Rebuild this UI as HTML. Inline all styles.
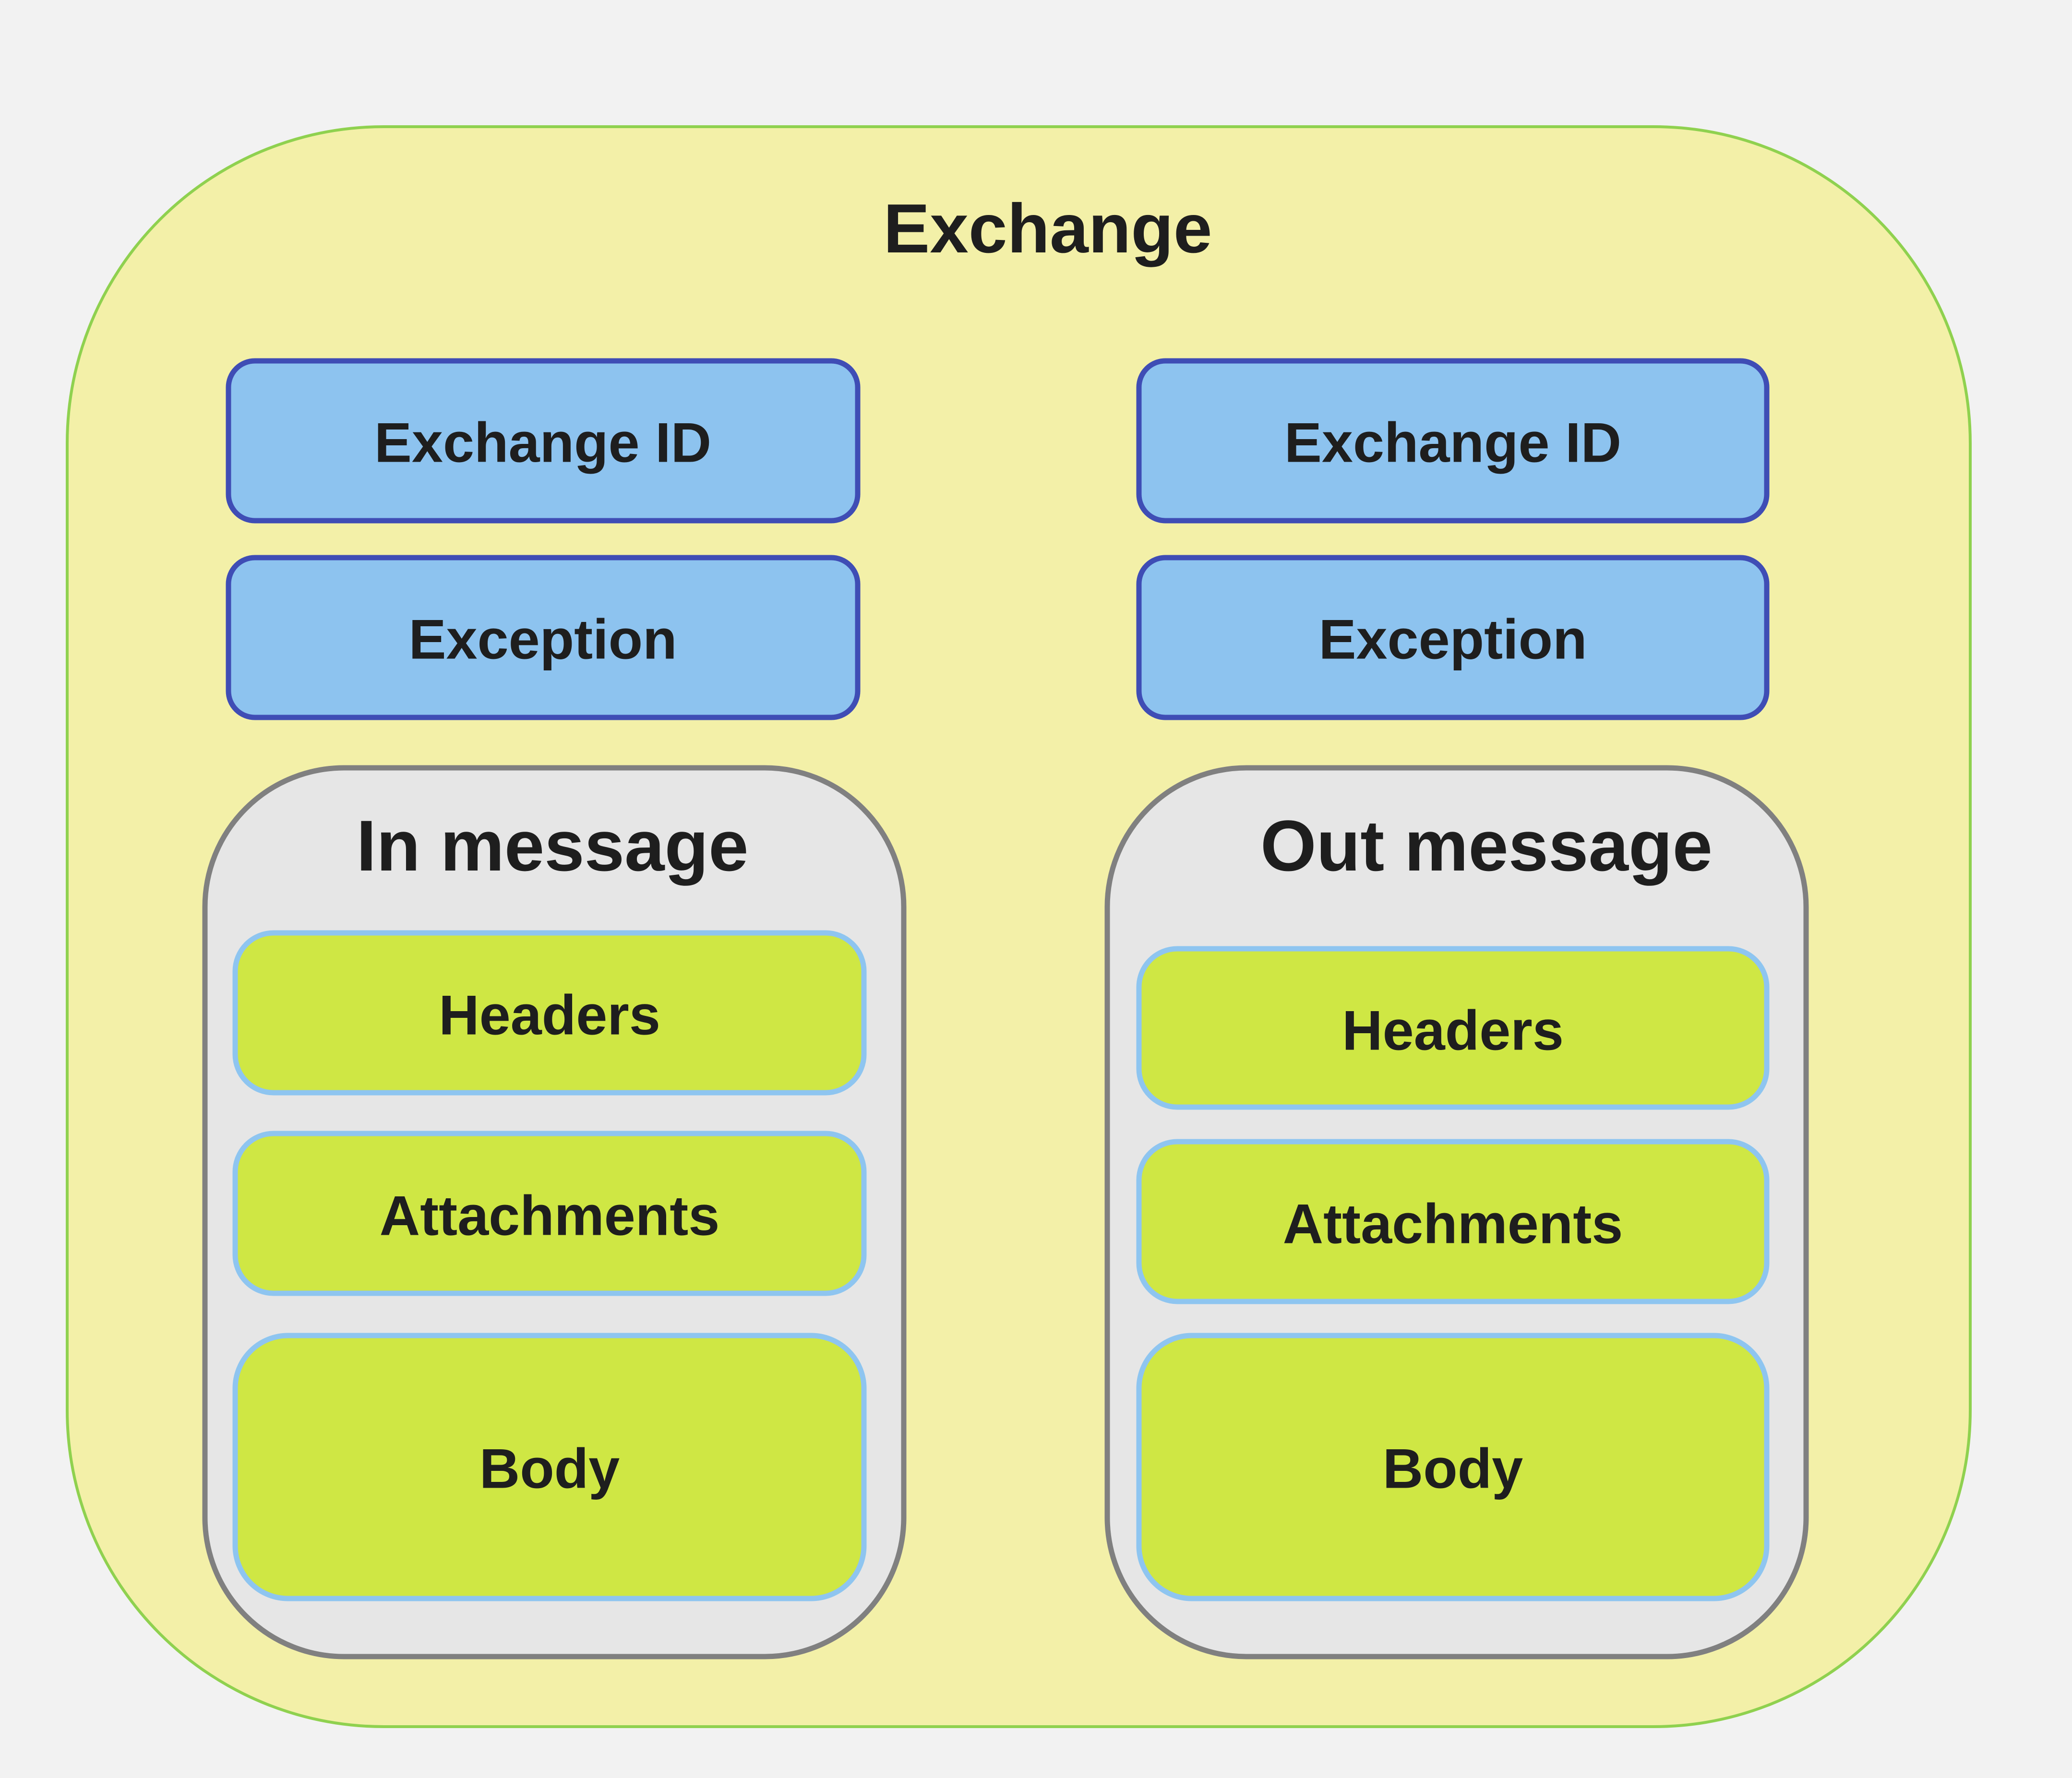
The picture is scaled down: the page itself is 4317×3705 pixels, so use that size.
<!DOCTYPE html>
<html><head><meta charset="utf-8"><style>
html,body{margin:0;padding:0;background:#f2f2f2;}
svg{display:block;}
text{font-family:"Liberation Sans","DejaVu Sans",sans-serif;font-weight:bold;fill:#1e1e1e;text-anchor:middle;dominant-baseline:central;}
</style></head><body>
<svg width="4317" height="3705" viewBox="0 0 4317 3705" xmlns="http://www.w3.org/2000/svg">
<rect width="4317" height="3705" fill="#f2f2f2"/>
<rect x="140" y="264" width="3965" height="3334" rx="660" ry="660" fill="#f3f0a8" stroke="#8fd14f" stroke-width="6"/>
<text x="2183" y="476" font-size="145">Exchange</text>

<g fill="#8dc3ef" stroke="#3f4db5" stroke-width="11">
<rect x="476" y="752" width="1311" height="333" rx="55"/>
<rect x="476" y="1162" width="1311" height="333" rx="55"/>
<rect x="2373" y="752" width="1308" height="333" rx="55"/>
<rect x="2373" y="1162" width="1308" height="333" rx="55"/>
</g>
<text x="1131" y="922" font-size="117">Exchange ID</text>
<text x="1131" y="1332" font-size="117">Exception</text>
<text x="3027" y="922" font-size="117">Exchange ID</text>
<text x="3027" y="1332" font-size="117">Exception</text>

<g fill="#e6e6e6" stroke="#808080" stroke-width="11">
<rect x="427" y="1600" width="1456" height="1852" rx="290"/>
<rect x="2307" y="1600" width="1456" height="1852" rx="290"/>
</g>
<text x="1151" y="1762" font-size="150">In message</text>
<text x="3097" y="1762" font-size="150">Out message</text>

<g fill="#cfe744" stroke="#8ec5f0" stroke-width="11">
<rect x="490" y="1944" width="1310" height="333" rx="80"/>
<rect x="490" y="2362" width="1310" height="333" rx="80"/>
<rect x="490" y="2783" width="1310" height="548" rx="110"/>
<rect x="2373" y="1977" width="1308" height="330" rx="80"/>
<rect x="2373" y="2379" width="1308" height="333" rx="80"/>
<rect x="2373" y="2783" width="1308" height="548" rx="110"/>
</g>
<text x="1145" y="2115" font-size="117">Headers</text>
<text x="1145" y="2533" font-size="117">Attachments</text>
<text x="1145" y="3060" font-size="117">Body</text>
<text x="3027" y="2147" font-size="117">Headers</text>
<text x="3027" y="2550" font-size="117">Attachments</text>
<text x="3027" y="3060" font-size="117">Body</text>
</svg>
</body></html>
